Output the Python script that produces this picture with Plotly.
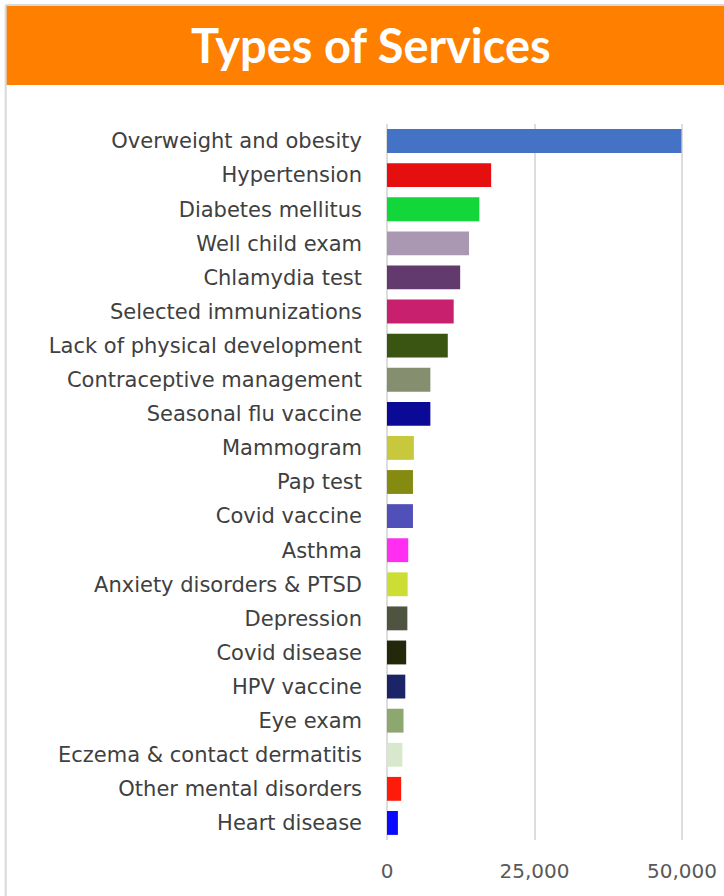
import plotly.graph_objects as go

categories = [
    "Overweight and obesity", "Hypertension", "Diabetes mellitus", "Well child exam",
    "Chlamydia test", "Selected immunizations", "Lack of physical development",
    "Contraceptive management", "Seasonal flu vaccine", "Mammogram", "Pap test",
    "Covid vaccine", "Asthma", "Anxiety disorders & PTSD", "Depression", "Covid disease",
    "HPV vaccine", "Eye exam", "Eczema & contact dermatitis", "Other mental disorders",
    "Heart disease",
]
values = [
    49900, 17650, 15650, 13900, 12400, 11300, 10300, 7350, 7350, 4550, 4400,
    4400, 3600, 3500, 3450, 3250, 3100, 2800, 2600, 2400, 1850,
]
colors = [
    "#4472C4", "#E60F0F", "#12D63A", "#AA98B2", "#633A6E", "#C8206E", "#3A5412",
    "#868E70", "#0A0A96", "#C8C83C", "#858A10", "#5050B8", "#FF2EF0", "#CCDD33",
    "#4E5440", "#23280A", "#1A2466", "#8CA870", "#D8E8CC", "#FF1A0A", "#0A0AFF",
]
x_ticks = [0, 25000, 50000]
x_tick_labels = ["0", "25,000", "50,000"]
title_text = "Types of Services"

W, H = 724, 896
L, R, T, B = 386.5, 39.35, 124, 56
PW, PH = W - L - R, H - T - B


def px(x):
    return (x - L) / PW


def py(y):
    return (H - B - y) / PH


fig = go.Figure(go.Bar(
    x=values, y=categories, orientation="h",
    marker=dict(color=colors, line=dict(width=0)),
    width=0.7,
))

fig.update_layout(
    width=W, height=H,
    margin=dict(l=L, r=R, t=T, b=B, autoexpand=False),
    paper_bgcolor="white", plot_bgcolor="white",
    showlegend=False,
    font=dict(family="DejaVu Sans", color="#404040"),
    shapes=[
        dict(type="rect", xref="paper", yref="paper", x0=px(5), x1=px(730), y0=py(5), y1=py(85),
             fillcolor="#FF8000", line=dict(width=0), layer="below"),
        dict(type="line", xref="paper", yref="paper", x0=px(5), x1=px(730), y0=py(5), y1=py(5),
             line=dict(color="#D9D9D9", width=2)),
        dict(type="line", xref="paper", yref="paper", x0=px(5), x1=px(5), y0=py(5), y1=py(900),
             line=dict(color="#D9D9D9", width=2)),
    ],
    annotations=[
        dict(text="<b>" + title_text + "</b>", xref="paper", yref="paper", x=px(370), y=py(45),
             xanchor="center", yanchor="middle", showarrow=False,
             font=dict(family="Lato", size=47, color="white")),
    ],
)

fig.update_xaxes(
    range=[0, 50500], tickvals=x_ticks, ticktext=x_tick_labels,
    showgrid=True, gridcolor="#DDDDDD", gridwidth=1.5,
    zeroline=True, zerolinecolor="#DDDDDD", zerolinewidth=1.5,
    showline=False, ticks="", ticklabelstandoff=17,
    tickfont=dict(family="DejaVu Sans", size=20, color="#595959"),
)
fig.update_yaxes(
    categoryorder="array", categoryarray=categories, autorange="reversed",
    showgrid=False, zeroline=False, showline=False, ticks="", ticklabelstandoff=24,
    tickfont=dict(family="DejaVu Sans", size=21, color="#404040"),
)

fig.write_html("out.html", config={"displayModeBar": False},
               post_script="document.body.style.margin='0';")
